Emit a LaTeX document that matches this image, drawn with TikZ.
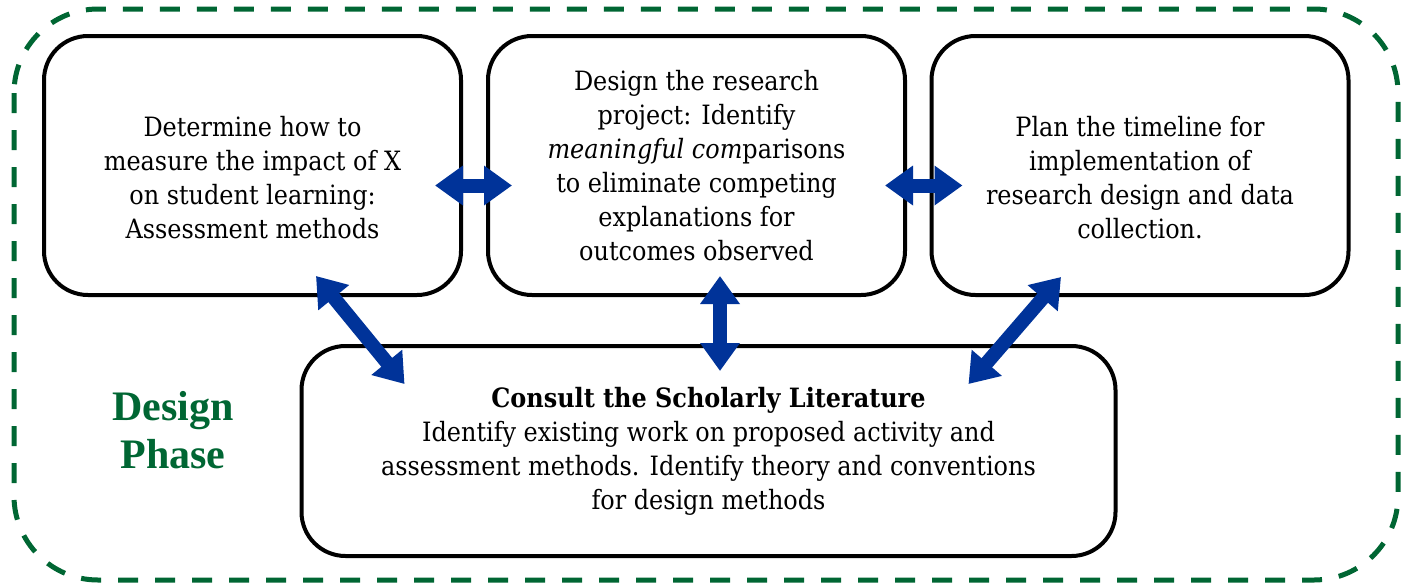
\documentclass[tikz,border=0pt]{standalone}
\usepackage{fontspec}
\setmainfont{DejaVu Serif Condensed}
\newfontfamily\phasefont{Liberation Serif}
\usetikzlibrary{shapes}
\usetikzlibrary{arrows.meta}
\definecolor{phasegreen}{RGB}{0,102,51}
\definecolor{linkblue}{RGB}{0,51,153}

\begin{document}
\begin{tikzpicture}[x=0.5pt,y=-0.5pt]
			\tikzstyle{stepbox}=[draw,line width=2pt,rounded corners=22pt,fill=white,align=center,font=\fontsize{13.3}{17}\selectfont]
			\tikzstyle{toprow}=[stepbox,minimum width=208.5pt,minimum height=129.5pt]
			\tikzstyle{link}=[draw=linkblue,line width=7pt,{Triangle[width=19pt,length=14pt]}-{Triangle[width=19pt,length=14pt]}]
			\useasboundingbox (0,0) rectangle (1409,584);
			
			\draw[phasegreen,line width=2.5pt,dash pattern=on 10pt off 8.5pt,rounded corners=42pt] (14,9) rectangle (1398,580);
			\node[text=phasegreen,font=\phasefont\bfseries\fontsize{21}{24}\selectfont,align=center] (phase) at (173,430) {Design\\Phase};
			
			\node[toprow] (measure) at (252.5,165.5) {\rule{0pt}{22pt}Determine how to\\measure the impact of X\\on student learning:\\Assessment methods};
			\node[toprow] (design) at (696.5,165.5) {Design the research\\project: Identify\\\textit{meaningful com}parisons\\to eliminate competing\\explanations for\\outcomes observed};
			\node[toprow] (timeline) at (1140,165.5) {\rule{0pt}{22pt}Plan the timeline for\\implementation of\\research design and data\\collection.};
			\node[stepbox,minimum width=407pt,minimum height=105pt] (consult) at (708.5,451) {\textbf{Consult the Scholarly Literature}\\Identify existing work on proposed activity and\\assessment methods. Identify theory and conventions\\for design methods};
			
			\draw[link] ([shift={(-28,20)}]measure.east) -- ([shift={(26,20)}]design.west);
			\draw[link] ([shift={(-22,20)}]design.east) -- ([shift={(33,20)}]timeline.west);
			\draw[link] ([shift={(63.5,-21)}]measure.south) -- ([shift={(105,40)}]consult.north west);
			\draw[link] ([shift={(23.5,-21)}]design.south) -- ([shift={(11.5,27)}]consult.north);
			\draw[link] ([shift={(-79,-20)}]timeline.south) -- ([shift={(-149,40)}]consult.north east);
			
			\end{tikzpicture}
\end{document}
